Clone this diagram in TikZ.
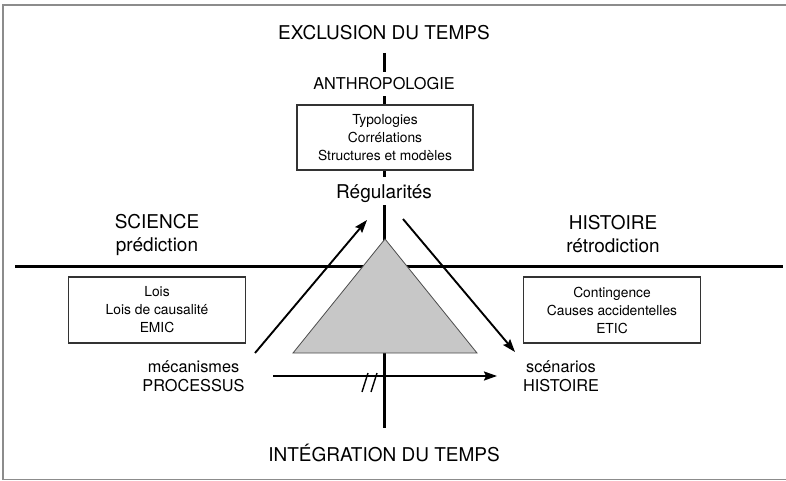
\documentclass[tikz,border=0pt]{standalone}
\usepackage{fontspec}
\setmainfont{TeX Gyre Heros}
\usetikzlibrary{arrows.meta}

\newcommand\grandtxt{\fontsize{19}{23}\selectfont}
\newcommand\moyentxt{\fontsize{16.3}{19}\selectfont}
\newcommand\petittxt{\fontsize{13.8}{18}\selectfont}

\begin{document}
\begin{tikzpicture}
  [
    x=1pt,y=-1pt,
    >={Stealth[length=13pt,width=9pt,inset=2pt]},
    axe/.style={line width=3pt},
    fleche/.style={->,line width=1.9pt},
    cadre/.style={draw=black!80,line width=1.1pt,fill=white,minimum width=177pt,minimum height=66pt,align=center,font=\petittxt},
    titre/.style={align=center,font=\grandtxt},
    etiquette/.style={align=center,font=\moyentxt},
  ]
  \useasboundingbox (0,0) rectangle (786,481);
  \draw [black!45,line width=1.2pt] (3,5) rectangle (788,479.5);

  % les deux axes
  \coordinate (gauche) at (15,266);
  \coordinate (droite) at (783,266);
  \coordinate (haut) at (384,53);
  \coordinate (bas) at (384,428);
  \draw [axe] (gauche) -- (droite);
  \draw [axe] (haut) -- (bas);

  \filldraw [fill=black!22,draw=black!70,line width=0.8pt] (385,239) -- (293,353) -- (477,353) -- cycle;

  \node [titre] (exclusion) at (384,33) {EXCLUSION DU TEMPS};
  \node [titre] (integration) at (384,453) {INTÉGRATION DU TEMPS};
  \node [etiquette,fill=white,minimum height=24pt,inner xsep=3pt] (anthro) at (384,84) {ANTHROPOLOGIE};
  \node [cadre,minimum width=176pt,minimum height=65pt] (typo) at (385,137.5) {Typologies\\Corrélations\\Structures et modèles};
  \node [font=\grandtxt,fill=white,anchor=base,text height=14pt,text depth=0pt,inner ysep=7pt] (regul) at (384,198) {Régularités};

  \node [titre] (science) at (157,234.5) {SCIENCE\\prédiction};
  \node [titre] (histoire) at (613,234.5) {HISTOIRE\\rétrodiction};
  \node [cadre] (lois) at (157,310) {Lois\\Lois de causalité\\EMIC};
  \node [cadre] (contingence) at (612,310) {Contingence\\Causes accidentelles\\ETIC};

  \node [etiquette] (processus) at (193.5,376.5) {mécanismes\\PROCESSUS};
  \node [etiquette] (scenarios) at (561,376.5) {scénarios\\HISTOIRE};

  % fleches
  \coordinate (monteDe) at (255,353);
  \coordinate (monteA) at (367,220);
  \coordinate (descendDe) at (403,219);
  \coordinate (descendA) at (515,352);
  \coordinate (tempsDe) at (273,376);
  \coordinate (tempsA) at (497,376);
  \draw [fleche] (monteDe) -- (monteA);
  \draw [fleche] (descendDe) -- (descendA);
  \draw [fleche] (tempsDe) -- (tempsA);
  \draw [line width=1.4pt] (368,373) -- (362,392) (377,373) -- (371,392);
\end{tikzpicture}
\end{document}
